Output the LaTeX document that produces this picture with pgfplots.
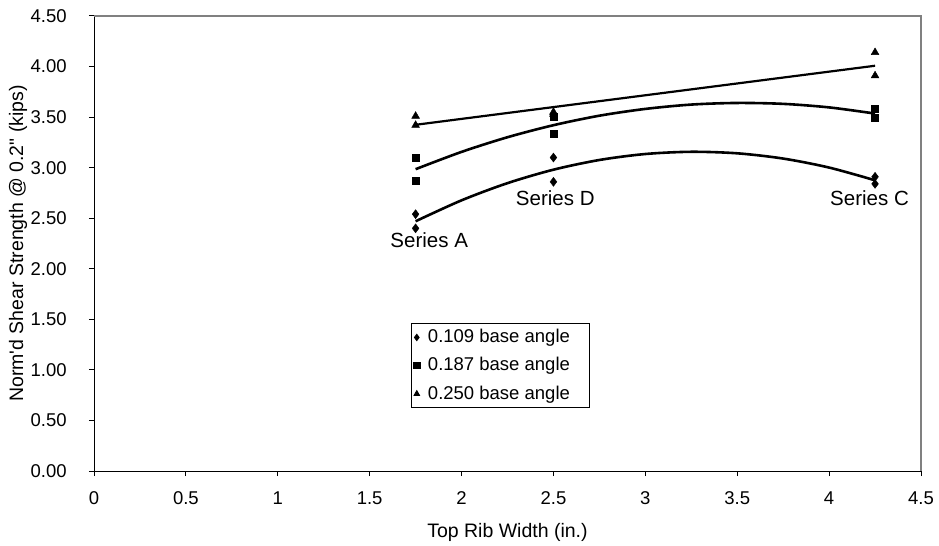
\documentclass[border=0pt]{standalone}
\usepackage{fontspec}
\setmainfont{Liberation Sans}
\usepackage{pgfplots}
\pgfplotsset{compat=1.18}
\begin{document}
\fontsize{18.5bp}{22bp}\selectfont
\begin{tikzpicture}
\begin{axis}[
  at={(94bp,75bp)}, anchor=south west,
  scale only axis, width=827bp, height=455bp,
  xmin=0, xmax=4.5, ymin=0, ymax=4.5,
  xtick={0,0.5,...,4.5}, ytick={0,0.5,...,4.5},
  axis x line*=bottom, axis y line*=left,
  axis line style={-, black, line width=1bp},
  tick align=outside, major tick length=5bp,
  tick style={black, line width=1bp},
  /pgf/number format/assume math mode=true,
  yticklabel style={/pgf/number format/fixed, /pgf/number format/fixed zerofill, /pgf/number format/precision=2, xshift=-16bp},
  xticklabel style={/pgf/number format/fixed, yshift=-9bp},
  font=\fontsize{18.5bp}{22bp}\selectfont,
  xlabel={Top Rib Width (in.)},
  ylabel={Norm\textquotesingle d Shear Strength @ 0.2\textquotedbl\ (kips)},
  xlabel style={at={(axis description cs:0.5,0)}, anchor=center, yshift=-61bp, font=\fontsize{19.5bp}{22bp}\selectfont},
  ylabel style={at={(axis description cs:-0.073,0.5)}, anchor=south, font=\fontsize{19.5bp}{22bp}\selectfont},
  legend style={at={(axis cs:1.726,1.464)}, anchor=north west, draw=black, line width=0.8bp,
    font=\fontsize{18.5bp}{22bp}\selectfont, row sep=8bp, column sep=6bp, inner xsep=2bp, inner ysep=4bp},
  legend image post style={mark size=3.2bp},
  legend cell align=left,
  clip=false,
]
% trend lines
\addplot[black, line width=2.2bp, forget plot] coordinates {(1.75,3.424) (4.25,4.008)};
\addplot[black, line width=2.6bp, smooth, forget plot] coordinates {
 (1.75,2.985) (2.0,3.156) (2.25,3.301) (2.5,3.420) (2.75,3.514) (3.0,3.581)
 (3.25,3.624) (3.5,3.640) (3.75,3.631) (4.0,3.596) (4.25,3.535)};
\addplot[black, line width=2.6bp, smooth, forget plot] coordinates {
 (1.75,2.470) (2.0,2.677) (2.25,2.847) (2.5,2.980) (2.75,3.076) (3.0,3.135)
 (3.25,3.157) (3.5,3.142) (3.75,3.090) (4.0,3.001) (4.25,2.875)};
% data
\addplot[only marks, mark=diamond*, mark size=4.5bp, black] coordinates {
 (1.75,2.54) (1.75,2.40) (2.5,3.10) (2.5,2.86) (4.25,2.91) (4.25,2.84)};
\addlegendentry{0.109 base angle\rule{15bp}{0pt}}
\addplot[only marks, mark=square*, mark size=3.5bp, black] coordinates {
 (1.75,3.10) (1.75,2.87) (2.5,3.50) (2.5,3.34) (4.25,3.58) (4.25,3.49)};
\addlegendentry{0.187 base angle\rule{15bp}{0pt}}
\addplot[only marks, mark=triangle*, mark size=4.5bp, black] coordinates {
 (1.75,3.51) (1.75,3.42) (2.5,3.55) (2.5,3.53) (4.25,4.14) (4.25,3.91)};
\addlegendentry{0.250 base angle\rule{15bp}{0pt}}
\draw[draw=gray, line width=1.2bp] (rel axis cs:0,1) -- (rel axis cs:1,1) -- (rel axis cs:1,0);
\node[font=\fontsize{20.5bp}{24bp}\selectfont] at (axis cs:1.824,2.285) {Series A};
\node[font=\fontsize{20.5bp}{24bp}\selectfont] at (axis cs:2.51,2.70) {Series D};
\node[font=\fontsize{20.5bp}{24bp}\selectfont] at (axis cs:4.22,2.70) {Series C};
\end{axis}
\pgfresetboundingbox
\path[use as bounding box] (0,0) rectangle (939bp,546bp);
\end{tikzpicture}
\end{document}
